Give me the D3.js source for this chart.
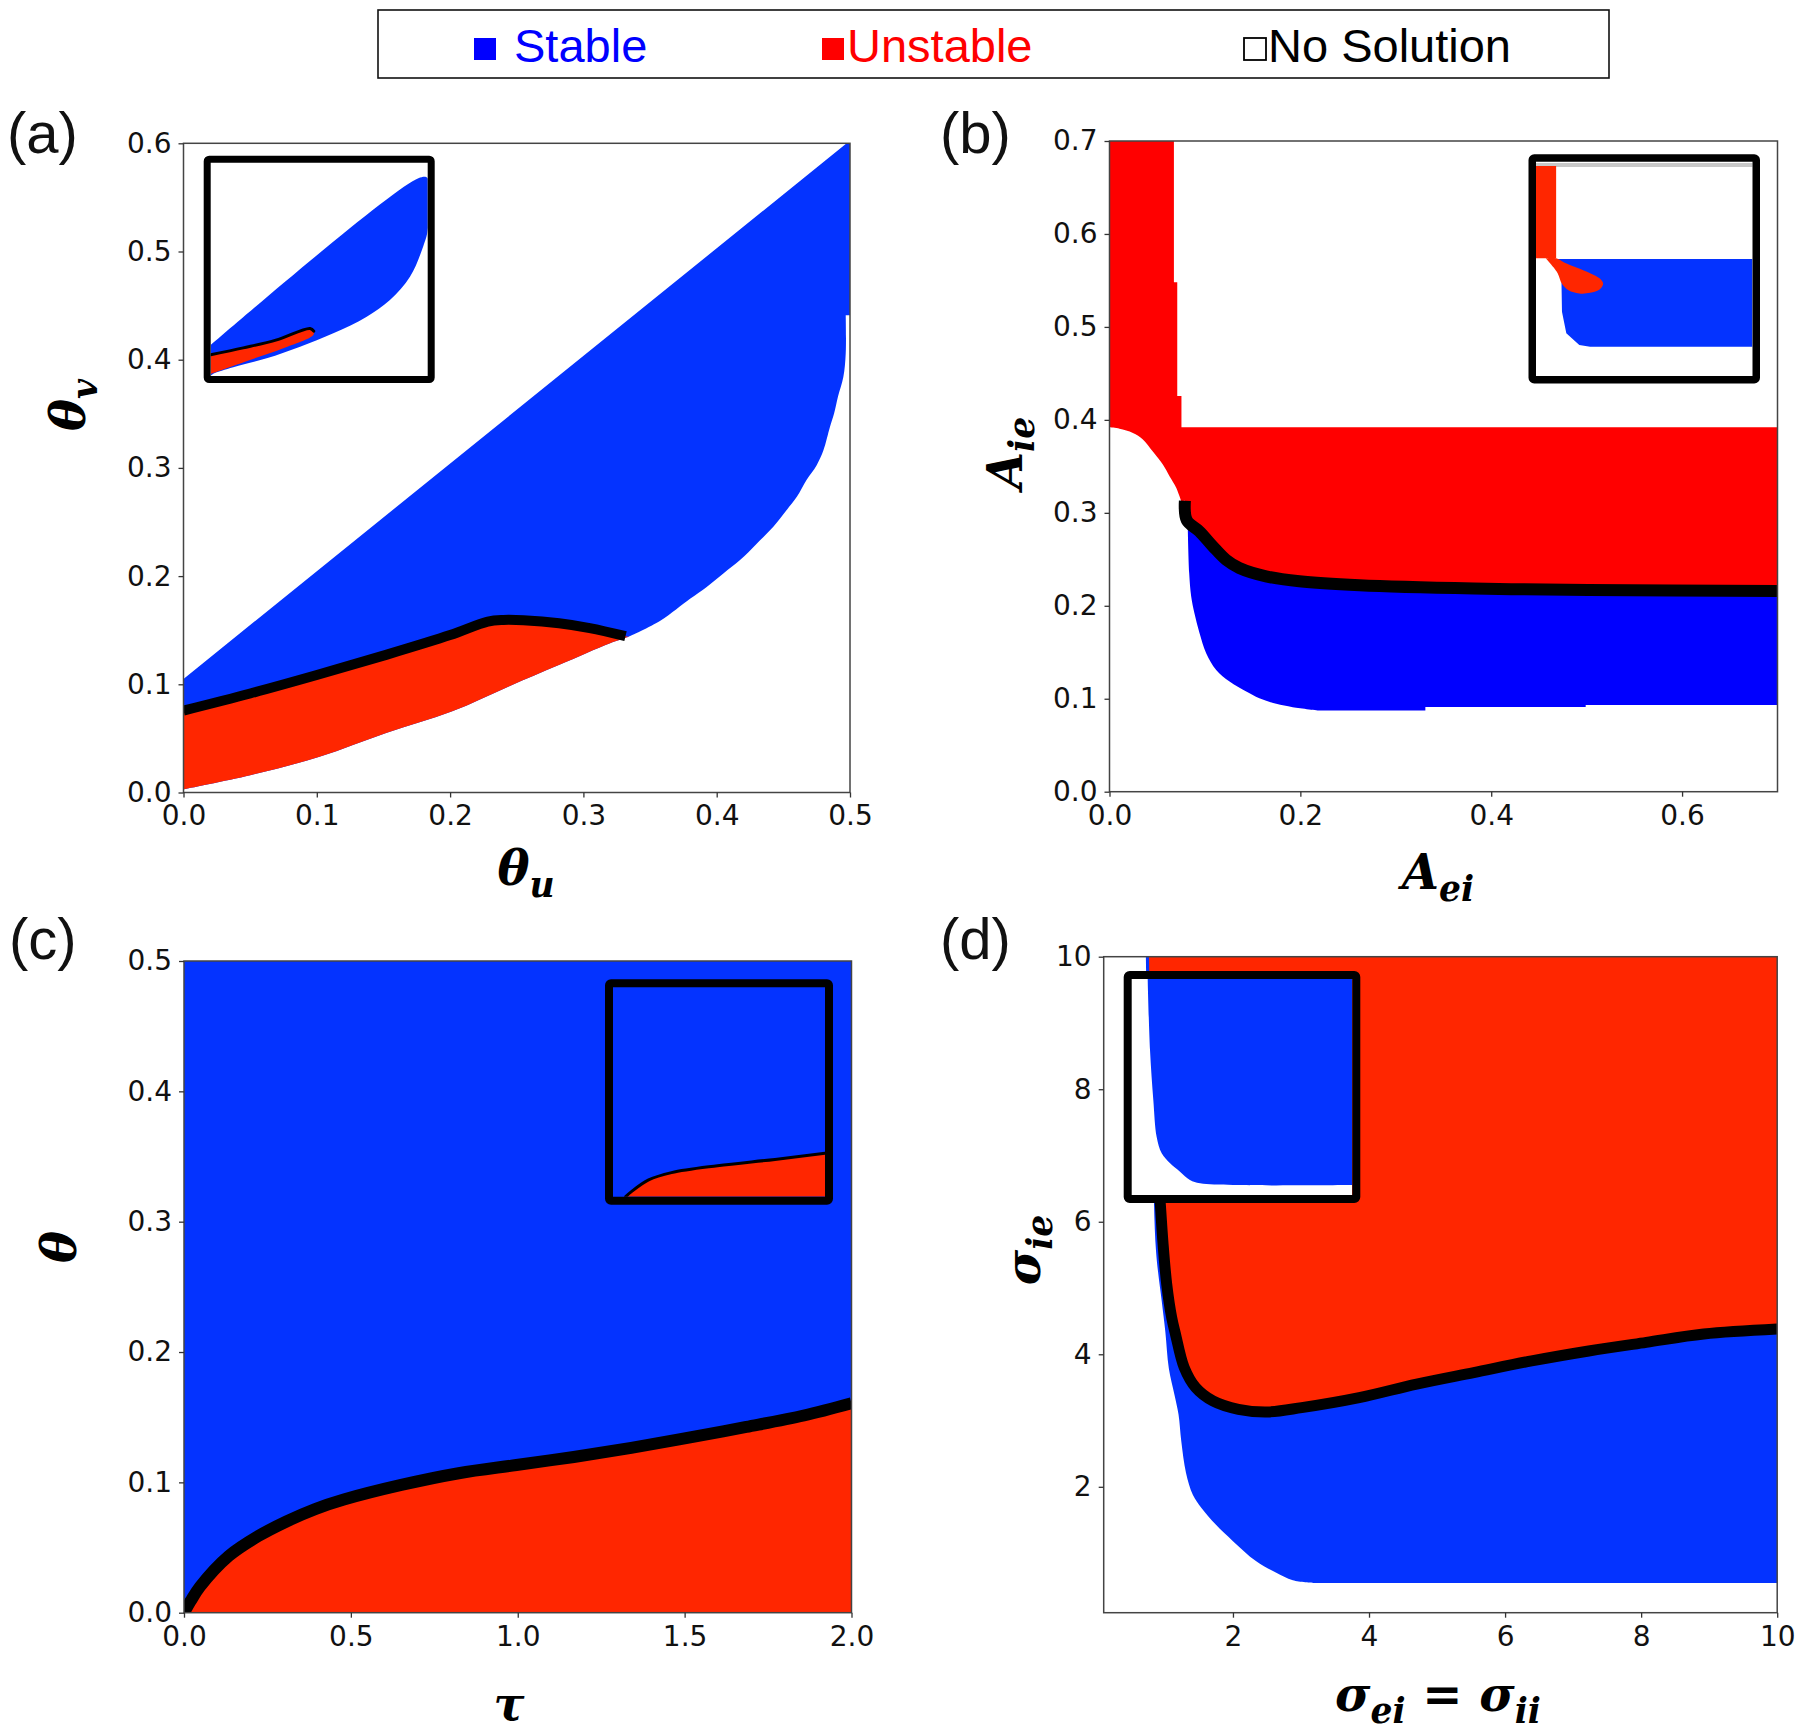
<!DOCTYPE html>
<html><head><meta charset="utf-8">
<script src="https://cdn.jsdelivr.net/npm/d3@7"></script>
<style>
body{margin:0;background:#fff;}
svg{display:block;}
.ax .tick text{font-family:"DejaVu Sans";font-size:28px;fill:#111;}
.ax .tick line{stroke:#333;stroke-width:1.3;}
</style></head><body>
<svg id="chart" width="1800" height="1734"></svg>
<script>
// ---------------- DATA ----------------
const legendLabels = ["Stable", "Unstable", "No Solution"];
const panelLabels = ["(a)", "(b)", "(c)", "(d)"];

// panel (a): theta_u vs theta_v
const aXTicks = [0, 0.1, 0.2, 0.3, 0.4, 0.5];
const aYTicks = [0, 0.1, 0.2, 0.3, 0.4, 0.5, 0.6];
const aStableUpper = [[0,0.105],[0.4975,0.6],[0.5,0.6],[0.5,0.441],[0.4968,0.441]];
const aStableRight = [[0.4968,0.441],[0.4968,0.406],[0.495,0.384],[0.491,0.366],[0.488,0.35],[0.485,0.338],[0.48,0.316],[0.475,0.3025],[0.4675,0.289],[0.46,0.273],[0.4525,0.261],[0.4425,0.2455],[0.43,0.23],[0.4175,0.2148],[0.405,0.2025],[0.3925,0.19],[0.38,0.179],[0.358,0.159],[0.334,0.144]];
const aBoundary = [[0,0.0757],[0.05,0.0915],[0.1,0.1086],[0.15,0.1265],[0.2,0.1455],[0.2283,0.158],[0.24,0.1595],[0.255,0.1592],[0.2818,0.1565],[0.3048,0.152],[0.3316,0.1445]];
const aUnstableLower = [[0.334,0.144],[0.32,0.138],[0.282,0.118],[0.244,0.098],[0.2016,0.075],[0.152,0.055],[0.102,0.033],[0.05,0.016],[0,0.003]];
// inset (a), normalized [u (right), v (down)]
const aInsetStable = [[0,0.855],[0.957,0.073],[1,0.073],[1,0.316],[0.98,0.39],[0.919,0.534],[0.826,0.644],[0.719,0.722],[0.565,0.8],[0.412,0.8625],[0.258,0.917],[0.104,0.959],[0.012,0.99],[0,1]];
const aInsetUnstable = [[0,0.9],[0.15,0.868],[0.3,0.832],[0.458,0.777],[0.475,0.79],[0.473,0.808],[0.335,0.87],[0.181,0.925],[0.028,0.98],[0,0.99]];
const aInsetBoundary = [[0,0.9],[0.15,0.868],[0.3,0.832],[0.458,0.777],[0.475,0.79]];

// panel (b): A_ei vs A_ie
const bXTicks = [0, 0.2, 0.4, 0.6];
const bYTicks = [0, 0.1, 0.2, 0.3, 0.4, 0.5, 0.6, 0.7];
const bUnstableOuter = [[0,0.7],[0.0675,0.7],[0.0675,0.548],[0.071,0.548],[0.071,0.4257],[0.0754,0.4257],[0.0754,0.392],[0.7,0.392],[0.7,0.216]];
const bBoundary = [[0.079,0.313],[0.081,0.292],[0.0943,0.280],[0.1083,0.264],[0.1223,0.2494],[0.136,0.2407],[0.164,0.2317],[0.199,0.2263],[0.262,0.222],[0.382,0.2185],[0.502,0.217],[0.7,0.216]];
const bNoSolutionEdge = [[0.0751,0.3125],[0.0699,0.327],[0.0629,0.3394],[0.0559,0.352],[0.0454,0.366],[0.035,0.379],[0.0245,0.386],[0.0105,0.3905],[0,0.392]];
const bStableBottom = [[0.7,0.0934],[0.499,0.0934],[0.499,0.091],[0.331,0.091],[0.331,0.0873],[0.22,0.0873]];
const bStableLeft = [[0.22,0.0873],[0.192,0.0909],[0.1747,0.0945],[0.157,0.1006],[0.1433,0.1078],[0.1258,0.1185],[0.1118,0.131],[0.1013,0.149],[0.0943,0.1707],[0.089,0.192],[0.0856,0.21],[0.0835,0.2353],[0.082,0.2856]];
// inset (b)
const bInsetStable = [[0.085,0.454],[1,0.454],[1,0.863],[0.25,0.863],[0.2,0.855],[0.14,0.8],[0.12,0.7],[0.117,0.52],[0.1,0.48]];
const bInsetUnstableStrip = [[0,0.02],[0.093,0.02],[0.093,0.451],[0,0.451]];
const bInsetUnstableBlob = [[0.045,0.451],[0.093,0.451],[0.13,0.47],[0.19,0.495],[0.25,0.52],[0.295,0.545],[0.31,0.568],[0.295,0.595],[0.25,0.612],[0.2,0.615],[0.15,0.6],[0.12,0.57],[0.1,0.52],[0.07,0.48]];
const bInsetTopLine = [[0,0.015],[1,0.015]];

// panel (c): tau vs theta
const cXTicks = [0, 0.5, 1.0, 1.5, 2.0];
const cYTicks = [0, 0.1, 0.2, 0.3, 0.4, 0.5];
const cBoundary = [[0,0],[0.02,0.009],[0.048,0.02],[0.134,0.0435],[0.2206,0.0585],[0.307,0.07],[0.393,0.0795],[0.479,0.0868],[0.651,0.098],[0.823,0.107],[0.996,0.1133],[1.168,0.1195],[1.34,0.1265],[1.5125,0.1343],[1.685,0.1425],[1.857,0.1513],[2.0,0.1607]];
// inset (c)
const cInsetBoundary = [[0.06,1],[0.087,0.976],[0.168,0.92],[0.276,0.885],[0.493,0.852],[0.764,0.822],[1,0.793]];

// panel (d): sigma_ei = sigma_ii vs sigma_ie
const dXTicks = [2, 4, 6, 8, 10];
const dYTicks = [2, 4, 6, 8, 10];
const dStableLeft = [[0.72,10],[0.74,9],[0.78,8],[0.82,7],[0.869,5.56],[0.952,4.81],[1.006,4.34],[1.057,3.79],[1.14,3.39],[1.2,3.09],[1.24,2.69],[1.31,2.21],[1.41,1.88],[1.537,1.68],[1.747,1.43],[2.0,1.18],[2.337,0.88],[2.63,0.707],[2.88,0.59],[3.18,0.55]];
const dStableCorners = [[3.18,0.55],[10,0.55],[10,10]];
const dUnstableTop = [[0.766,10],[0.8,8.5],[0.86,7.3],[0.9,6.7]];
const dBoundary = [[0.9,6.7],[0.93,6.3],[0.97,5.7],[1.026,5.06],[1.1,4.55],[1.155,4.305],[1.283,3.8],[1.45,3.5],[1.705,3.296],[2.08,3.17],[2.506,3.13],[3.01,3.195],[3.856,3.346],[4.7,3.55],[5.54,3.724],[6.39,3.9],[7.23,4.05],[8.076,4.18],[8.92,4.305],[10,4.38]];
// inset (d)
const dInsetStable = [[0.0725,0],[0.083,0.329],[0.098,0.56],[0.113,0.73],[0.136,0.807],[0.174,0.853],[0.219,0.892],[0.264,0.93],[0.31,0.946],[0.46,0.954],[1,0.954]];
const dInsetStableCorners = [[1,0.954],[1,0]];

// ---------------- STYLE ----------------
const BLUE = "#0433ff", RED = "#ff2600", BLUE_B = "#0000ff", RED_B = "#ff0000";
const LIN = d3.curveLinear, SM = d3.curveCatmullRom.alpha(0.5);

const svg = d3.select("#chart");
svg.append("rect").attr("width",1800).attr("height",1734).attr("fill","#fff");
const defs = svg.append("defs");

// joins several pieces (each with its own curve) into one path
function joinPath(lineGen, pieces, close) {
  const d = pieces.map((p, i) => {
    const s = lineGen.curve(p[1])(p[0]);
    return i ? s.replace(/^M/, "L") : s;
  }).join("");
  return close ? d + "Z" : d;
}

// legend
const lg = svg.append("g");
lg.append("rect").attr("x",378).attr("y",10).attr("width",1231).attr("height",68)
  .attr("fill","#fff").attr("stroke","#111").attr("stroke-width",1.6);
const legendItems = [
  {label: legendLabels[0], color: BLUE_B, sx: 474, tx: 514, fill: BLUE_B, stroke: "none"},
  {label: legendLabels[1], color: RED_B, sx: 822, tx: 847, fill: RED_B, stroke: "none"},
  {label: legendLabels[2], color: "#000", sx: 1244, tx: 1268, fill: "#fff", stroke: "#000"}
];
legendItems.forEach(d => {
  lg.append("rect").attr("x", d.sx).attr("y", 38).attr("width", 22).attr("height", 22)
    .attr("fill", d.fill).attr("stroke", d.stroke).attr("stroke-width", 1.8);
  lg.append("text").attr("x", d.tx).attr("y", 61.5).text(d.label)
    .attr("font-family","Liberation Sans, Arial, sans-serif").attr("font-size",47).attr("fill", d.color);
});

// panel labels
const panelLabelPos = [[7,153],[940,153],[9,959],[940,959]];
panelLabels.forEach((t,i) => {
  svg.append("text").attr("x", panelLabelPos[i][0]).attr("y", panelLabelPos[i][1]).text(t)
    .attr("font-family","Liberation Sans, Arial, sans-serif").attr("font-size",58).attr("fill","#111");
});

function mathLabel(x, y, rot, parts, size) {
  const t = svg.append("text").attr("transform", `translate(${x},${y}) rotate(${rot})`)
    .attr("text-anchor","middle").attr("font-family","DejaVu Serif")
    .attr("font-weight","bold").attr("font-style","italic").attr("font-size", size)
    .attr("fill","#000").style("white-space","pre");
  let shifted = false;
  parts.forEach(p => {
    const ts = t.append("tspan").text(p.t);
    if (p.sub) {
      ts.attr("font-size", size*0.72);
      if (!shifted) { ts.attr("dy", size*0.24); shifted = true; }
    } else if (shifted) { ts.attr("dy", -size*0.24); shifted = false; }
  });
}

function makePanel(id, xDom, yDom, xr, yr, xTicks, yTicks, fmt) {
  const x = d3.scaleLinear().domain(xDom).range(xr);
  const y = d3.scaleLinear().domain(yDom).range(yr);
  defs.append("clipPath").attr("id","clip"+id).append("rect")
    .attr("x", xr[0]).attr("y", yr[1]).attr("width", xr[1]-xr[0]).attr("height", yr[0]-yr[1]);
  const g = svg.append("g");
  const plot = g.append("g").attr("clip-path", `url(#clip${id})`);
  const line = d3.line().x(d => x(d[0])).y(d => y(d[1]));
  return {x, y, g, plot, line, xr, yr, xTicks, yTicks, fmt};
}

function finishPanel(p) {
  p.g.append("rect").attr("x", p.xr[0]).attr("y", p.yr[1]).attr("width", p.xr[1]-p.xr[0]).attr("height", p.yr[0]-p.yr[1])
    .attr("fill","none").attr("stroke","#444").attr("stroke-width",1.5);
  const ax = p.g.append("g").attr("class","ax").attr("transform", `translate(0,${p.yr[0]})`)
    .call(d3.axisBottom(p.x).tickValues(p.xTicks).tickFormat(p.fmt).tickSize(5).tickPadding(8).tickSizeOuter(0));
  ax.select(".domain").remove();
  const ay = p.g.append("g").attr("class","ax").attr("transform", `translate(${p.xr[0]},0)`)
    .call(d3.axisLeft(p.y).tickValues(p.yTicks).tickFormat(p.fmt).tickSize(5).tickPadding(7).tickSizeOuter(0));
  ay.select(".domain").remove();
}

function drawInset(box, sw, bg, layers) {
  const u = d3.scaleLinear().domain([0,1]).range([box[0], box[1]]);
  const v = d3.scaleLinear().domain([0,1]).range([box[2], box[3]]);
  const id = "ins" + Math.round(box[0]);
  defs.append("clipPath").attr("id", id).append("rect")
    .attr("x", box[0]).attr("y", box[2]).attr("width", box[1]-box[0]).attr("height", box[3]-box[2]);
  const g = svg.append("g");
  const inner = g.append("g").attr("clip-path", `url(#${id})`);
  inner.append("rect").attr("x", box[0]).attr("y", box[2]).attr("width", box[1]-box[0]).attr("height", box[3]-box[2]).attr("fill", bg);
  const line = d3.line().x(d => u(d[0])).y(d => v(d[1]));
  layers.forEach(L => {
    if (L.type === "area") inner.append("path").attr("d", joinPath(line, L.pieces, true)).attr("fill", L.color);
    else inner.append("path").attr("d", joinPath(line, L.pieces, false)).attr("fill","none").attr("stroke", L.color)
      .attr("stroke-width", L.w).attr("stroke-linecap","round").attr("stroke-linejoin","round");
  });
  g.append("rect").attr("x", box[0]-sw/2).attr("y", box[2]-sw/2)
    .attr("width", box[1]-box[0]+sw).attr("height", box[3]-box[2]+sw)
    .attr("rx", 2).attr("fill","none").attr("stroke","#000").attr("stroke-width", sw).attr("stroke-linejoin","round");
}

const f1 = d3.format(".1f");
const f0 = d3.format("d");

// ---------- Panel (a) ----------
const A = makePanel("a", [0,0.5], [0,0.6], [183.5, 850], [792.5, 143.3], aXTicks, aYTicks, f1);
A.plot.append("path").attr("d", joinPath(A.line, [[aStableUpper, LIN],[aStableRight, SM],[aUnstableLower, SM]], true)).attr("fill", BLUE);
A.plot.append("path").attr("d", joinPath(A.line, [[aBoundary, SM],[aUnstableLower, SM],[[[0,0.003],[0,0]], LIN]], true)).attr("fill", RED);
A.plot.append("path").attr("d", joinPath(A.line, [[aBoundary, SM]], false)).attr("fill","none").attr("stroke","#000").attr("stroke-width",10).attr("stroke-linecap","butt");
finishPanel(A);
drawInset([210.7, 427.7, 162.7, 376], 7, "#fff", [
  {type:"area", pieces: [[aInsetStable, SM]], color: BLUE},
  {type:"area", pieces: [[aInsetUnstable, SM]], color: RED},
  {type:"line", pieces: [[aInsetBoundary, SM]], color: "#000", w: 3}
]);
mathLabel(526, 885, 0, [{t:"θ"},{t:"u",sub:true}], 48);
mathLabel(85, 405, -90, [{t:"θ"},{t:"v",sub:true}], 48);

// ---------- Panel (b) ----------
const B = makePanel("b", [0,0.7], [0,0.7], [1109.5, 1777.5], [791.7, 141], bXTicks, bYTicks, f1);
B.plot.append("path").attr("d", joinPath(B.line, [[bUnstableOuter, LIN],[bBoundary.slice().reverse(), SM],[bNoSolutionEdge, SM]], true)).attr("fill", RED_B);
B.plot.append("path").attr("d", joinPath(B.line, [[bBoundary.slice(1), SM],[bStableBottom, LIN],[bStableLeft, SM]], true)).attr("fill", BLUE_B);
B.plot.append("path").attr("d", joinPath(B.line, [[bBoundary, SM]], false)).attr("fill","none").attr("stroke","#000").attr("stroke-width",12).attr("stroke-linecap","butt");
finishPanel(B);
drawInset([1536, 1752.5, 161.7, 376], 7.5, "#fff", [
  {type:"line", pieces: [[bInsetTopLine, LIN]], color: "#c8c8c8", w: 4},
  {type:"area", pieces: [[bInsetStable, LIN]], color: BLUE},
  {type:"area", pieces: [[bInsetUnstableStrip, LIN]], color: RED},
  {type:"area", pieces: [[bInsetUnstableBlob, SM]], color: RED}
]);
mathLabel(1022, 453, -90, [{t:"A"},{t:"ie",sub:true}], 48);
mathLabel(1438, 889, 0, [{t:"A"},{t:"ei",sub:true}], 48);

// ---------- Panel (c) ----------
const Cp = makePanel("c", [0,2], [0,0.5], [184, 851.5], [1612.7, 961], cXTicks, cYTicks, f1);
Cp.plot.append("rect").attr("x", Cp.x(0)).attr("y", Cp.y(0.5)).attr("width", Cp.x(2)-Cp.x(0)).attr("height", Cp.y(0)-Cp.y(0.5)).attr("fill", BLUE);
Cp.plot.append("path").attr("d", joinPath(Cp.line, [[cBoundary, SM],[[[2,0.1607],[2,0]], LIN]], true)).attr("fill", RED);
Cp.plot.append("path").attr("d", joinPath(Cp.line, [[cBoundary, SM]], false)).attr("fill","none").attr("stroke","#000").attr("stroke-width",12);
finishPanel(Cp);
drawInset([613, 825, 987.3, 1196.7], 8, BLUE, [
  {type:"area", pieces: [[cInsetBoundary, SM],[[[1,0.793],[1,1]], LIN]], color: RED},
  {type:"line", pieces: [[cInsetBoundary, SM]], color: "#000", w: 3}
]);
mathLabel(76, 1247, -90, [{t:"θ"}], 48);
mathLabel(509, 1720, 0, [{t:"τ"}], 46);

// ---------- Panel (d) ----------
const D = makePanel("d", [0.1,10], [0.1,10], [1103.7, 1777.2], [1612.7, 956.7], dXTicks, dYTicks, f0);
D.plot.append("path").attr("d", joinPath(D.line, [[dStableLeft, SM],[dStableCorners, LIN]], true)).attr("fill", BLUE);
D.plot.append("path").attr("d", joinPath(D.line, [[dUnstableTop, SM],[dBoundary, SM],[[[10,4.38],[10,10]], LIN]], true)).attr("fill", RED);
D.plot.append("path").attr("d", joinPath(D.line, [[dBoundary, SM]], false)).attr("fill","none").attr("stroke","#000").attr("stroke-width",11);
finishPanel(D);
drawInset([1131.7, 1352.3, 979, 1195], 8, "#fff", [
  {type:"area", pieces: [[dInsetStable, SM],[dInsetStableCorners, LIN]], color: BLUE}
]);
mathLabel(1040, 1250, -90, [{t:"σ"},{t:"ie",sub:true}], 48);
mathLabel(1438, 1711, 0, [{t:"σ"},{t:"ei",sub:true},{t:" = "},{t:"σ"},{t:"ii",sub:true}], 48);
</script>
</body></html>
